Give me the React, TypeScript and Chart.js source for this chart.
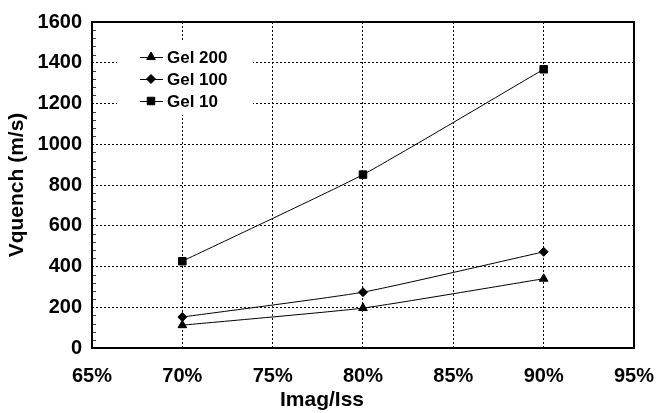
import React, { useEffect, useRef } from 'react';
import { Chart, registerables } from 'chart.js';
import { drawPoint } from 'chart.js/helpers';

Chart.register(...registerables);

const xValues = [70, 80, 90];
const gel200 = [112, 196, 340];
const gel100 = [152, 274, 472];
const gel10 = [426, 851, 1368];
const seriesLabels = ['Gel 200', 'Gel 100', 'Gel 10'];
const seriesStyles = ['triangle', 'rectRot', 'rect'];
const seriesRadius = [5, 4.5, 5.3];
const xMin = 65, xMax = 95, xStep = 5;
const yMin = 0, yMax = 1600, yStep = 200, yMinorStep = 40;
const xTitle = 'Imag/Iss';
const yTitle = 'Vquench (m/s)';

const FONT = '"Liberation Sans", Arial, sans-serif';

const frameAndMinor = {
  id: 'frameAndMinor',
  afterDatasetsDraw(chart: any) {
    const { ctx, chartArea } = chart;
    const y = chart.scales.y;
    ctx.save();
    ctx.strokeStyle = '#444';
    ctx.lineWidth = 1;
    for (let v = yMin; v <= yMax; v += yMinorStep) {
      if (v % yStep === 0) continue;
      const py = Math.round(y.getPixelForValue(v)) + 0.5;
      ctx.beginPath();
      ctx.moveTo(chartArea.left, py);
      ctx.lineTo(chartArea.left + 4, py);
      ctx.stroke();
    }
    ctx.strokeStyle = '#000';
    ctx.lineWidth = 2;
    ctx.strokeRect(chartArea.left, chartArea.top, chartArea.right - chartArea.left, chartArea.bottom - chartArea.top);
    ctx.restore();
  },
};

const insideLegend = {
  id: 'insideLegend',
  afterDatasetsDraw(chart: any) {
    const { ctx, chartArea } = chart;
    const x0 = chartArea.left + 25;
    const y0 = chartArea.top + 19;
    ctx.save();
    ctx.fillStyle = '#fff';
    ctx.fillRect(x0, y0, 136, 74);
    chart.data.datasets.forEach((ds: any, i: number) => {
      const cy = y0 + 16 + i * 22;
      ctx.strokeStyle = '#000';
      ctx.fillStyle = '#000';
      ctx.lineWidth = 1;
      ctx.beginPath();
      ctx.moveTo(x0 + 23, cy + 0.5);
      ctx.lineTo(x0 + 46, cy + 0.5);
      ctx.stroke();
      drawPoint(ctx, { pointStyle: ds.pointStyle, rotation: 0, radius: ds.pointRadius, borderWidth: 1 }, x0 + 34, cy);
      ctx.fillStyle = '#000';
      ctx.font = `bold 17px ${FONT}`;
      ctx.textBaseline = 'middle';
      ctx.textAlign = 'left';
      ctx.fillText(ds.label, x0 + 50, cy + 1);
    });
    ctx.restore();
  },
};

export default function App() {
  const ref = useRef<HTMLCanvasElement>(null);
  useEffect(() => {
    if (!ref.current) return;
    const seriesValues = [gel200, gel100, gel10];
    const chart = new Chart(ref.current, {
      type: 'line',
      data: {
        datasets: seriesLabels.map((label, i) => ({
          label,
          data: xValues.map((x, j) => ({ x, y: seriesValues[i][j] })),
          borderColor: '#000',
          backgroundColor: '#000',
          borderWidth: 1,
          pointStyle: seriesStyles[i] as any,
          pointRadius: seriesRadius[i],
          pointBorderWidth: 1,
          tension: 0.15,
          fill: false,
        })),
      },
      options: {
        responsive: false,
        animation: false,
        layout: { padding: { top: 19, right: 26, left: 0, bottom: 0 } },
        plugins: {
          legend: { display: false },
          tooltip: { enabled: false },
          title: {
            display: true,
            position: 'bottom',
            text: xTitle,
            color: '#000',
            font: { family: FONT, size: 21, weight: 'bold' },
            padding: { top: 0, bottom: 0 },
          },
        },
        scales: {
          x: {
            type: 'linear',
            min: xMin,
            max: xMax,
            ticks: {
              stepSize: xStep,
              color: '#000',
              font: { family: FONT, size: 20, weight: 'bold' },
              padding: 16,
              maxRotation: 0,
              callback: (v: any) => `${v}%`,
            },
            grid: { color: '#000', lineWidth: 1, drawTicks: false },
            border: { display: false, dash: [2, 2] },
            afterFit: (s: any) => { s.height = 39.8; },
          },
          y: {
            min: yMin,
            max: yMax,
            ticks: {
              stepSize: yStep,
              color: '#000',
              font: { family: FONT, size: 20, weight: 'bold' },
              padding: 10,
              callback: (v: any) => String(v),
            },
            grid: { color: '#000', lineWidth: 1, drawTicks: false },
            border: { display: false, dash: [2, 2] },
            title: {
              display: true,
              text: yTitle,
              color: '#000',
              font: { family: FONT, size: 21, weight: 'bold' },
              padding: { top: 5, bottom: 0 },
            },
            afterFit: (s: any) => { s.width = 92; },
          },
        },
      },
      plugins: [frameAndMinor, insideLegend],
    });
    return () => chart.destroy();
  }, []);
  return (
    <div style={{ position: 'fixed', left: 0, top: 0, width: 670, height: 413, background: '#fff' }}>
      <canvas ref={ref} width={670} height={413} />
    </div>
  );
}
